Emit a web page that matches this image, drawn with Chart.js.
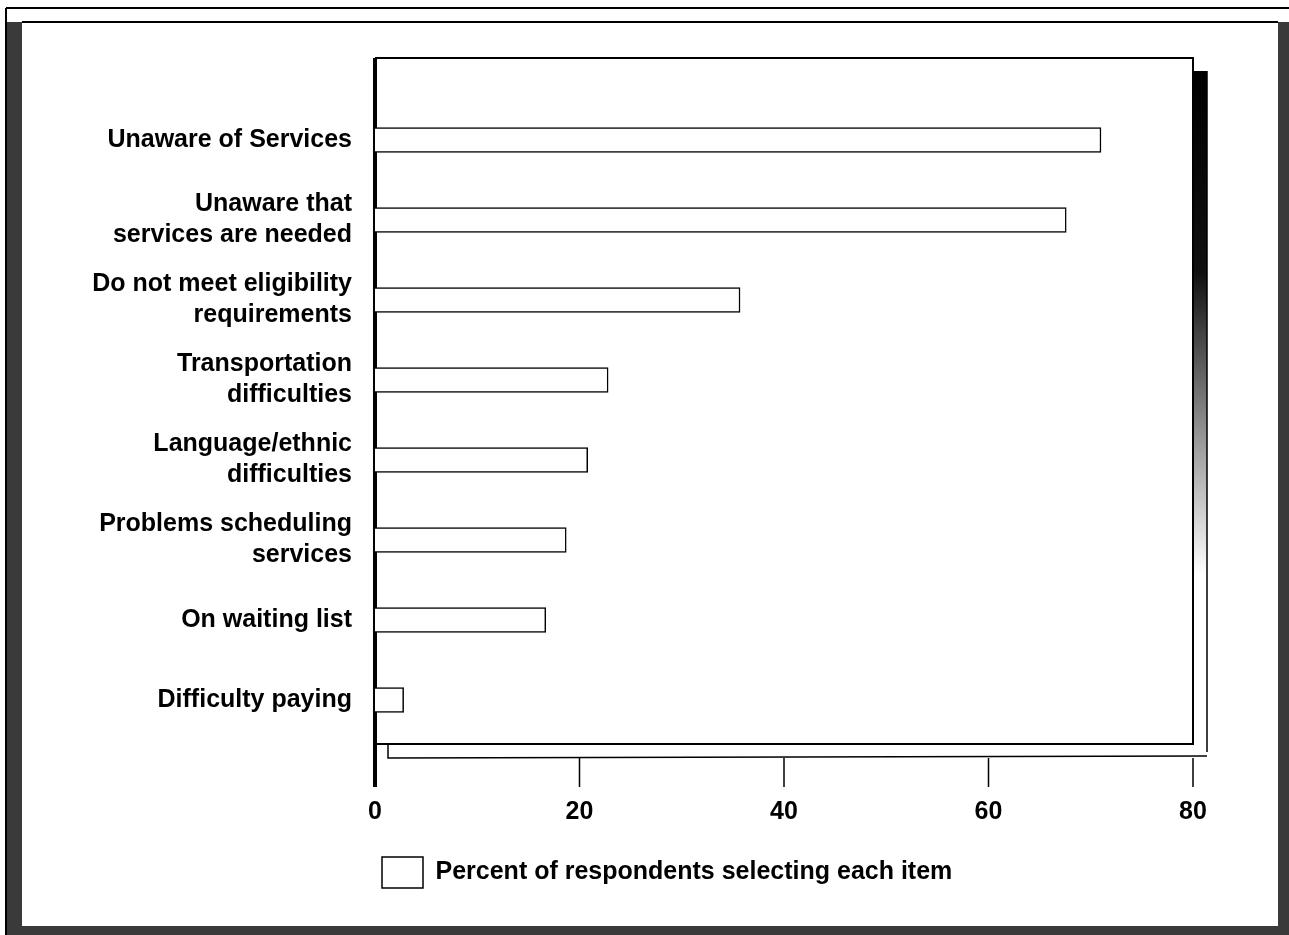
<!DOCTYPE html>
<html>
<head>
<meta charset="utf-8">
<title>Barriers to services</title>
<script src="https://cdn.jsdelivr.net/npm/chart.js@4/dist/chart.umd.min.js"></script>
<style>
  html, body { margin: 0; padding: 0; background: #fff; }
  canvas { display: block; }
</style>
</head>
<body>
<canvas id="grafica" width="1289" height="935"></canvas>
<script>
// datos
const categorias = [
    'Unaware of Services',
    ['Unaware that', 'services are needed'],
    ['Do not meet eligibility', 'requirements'],
    ['Transportation', 'difficulties'],
    ['Language/ethnic', 'difficulties'],
    ['Problems scheduling', 'services'],
    'On waiting list',
    'Difficulty paying'
];
const porcentajes = [71, 67.6, 35.7, 22.8, 20.8, 18.7, 16.7, 2.8];
const ticksX = [0, 20, 40, 60, 80];
const nombreSerie = 'Percent of respondents selecting each item';

const fuente = { family: '"Liberation Sans", Arial, sans-serif', weight: 'bold', size: 25 };

// marco de página + caja del gráfico con sombra y "piso"
const marco = {
    id: 'marco',
    beforeDraw(chart) {
        const ctx = chart.ctx;
        const W = chart.width, H = chart.height;
        ctx.save();
        ctx.fillStyle = '#fff';
        ctx.fillRect(0, 0, W, H);
        // tiras oscuras del escaneo
        ctx.fillStyle = '#3a3a3a';
        ctx.fillRect(6, 22, 16, H - 22);
        ctx.fillRect(1278, 22, 11, H - 22);
        ctx.fillRect(6, 926, W - 6, 9);
        ctx.strokeStyle = '#000';
        ctx.lineWidth = 2;
        ctx.beginPath();
        ctx.moveTo(6, 8); ctx.lineTo(W, 8);
        ctx.moveTo(6, 8); ctx.lineTo(6, H);
        ctx.moveTo(22, 22); ctx.lineTo(1278, 22);
        ctx.stroke();
        ctx.restore();
    },
    beforeDatasetsDraw(chart) {
        const ctx = chart.ctx;
        const x = chart.scales.x;
        const a = chart.chartArea;
        const izq = x.getPixelForValue(0);
        const der = x.getPixelForValue(80);
        const arriba = a.top - 42;
        const abajo = a.bottom + 4;
        ctx.save();
        // sombra derecha
        const g = ctx.createLinearGradient(0, arriba + 13, 0, abajo);
        g.addColorStop(0, '#000');
        g.addColorStop(0.3, '#111');
        g.addColorStop(0.55, '#999');
        g.addColorStop(0.75, '#fff');
        ctx.fillStyle = g;
        ctx.fillRect(der + 1, arriba + 13, 13, abajo - arriba - 5);
        ctx.strokeStyle = '#000';
        ctx.lineWidth = 1.5;
        ctx.beginPath();
        ctx.moveTo(der + 14, arriba + 13); ctx.lineTo(der + 14, abajo + 8);
        ctx.stroke();
        // caja
        ctx.lineWidth = 2;
        ctx.beginPath();
        ctx.moveTo(izq, arriba); ctx.lineTo(der, arriba); ctx.lineTo(der, abajo); ctx.lineTo(izq, abajo);
        ctx.stroke();
        // piso
        ctx.lineWidth = 1.5;
        ctx.beginPath();
        ctx.moveTo(izq + 13, abajo); ctx.lineTo(izq + 13, abajo + 14);
        ctx.lineTo(der + 14, abajo + 12);
        ctx.stroke();
        // marcas del eje x
        const finPiso = abajo + 14;
        ctx.lineWidth = 1.5;
        ctx.beginPath();
        ticksX.forEach(v => {
            if (v === 0) return;
            const px = x.getPixelForValue(v);
            ctx.moveTo(px, finPiso); ctx.lineTo(px, finPiso + 29);
        });
        ctx.stroke();
        // eje izquierdo grueso
        ctx.lineWidth = 4;
        ctx.beginPath();
        ctx.moveTo(izq, arriba); ctx.lineTo(izq, finPiso + 29);
        ctx.stroke();
        ctx.restore();
    }
};

new Chart(document.getElementById('grafica').getContext('2d'), {
    type: 'bar',
    data: {
        labels: categorias,
        datasets: [{
            label: nombreSerie,
            data: porcentajes,
            backgroundColor: '#fff',
            borderColor: '#000',
            borderWidth: 1.5,
            barThickness: 25
        }]
    },
    options: {
        indexAxis: 'y',
        responsive: false,
        animation: false,
        layout: { padding: { left: 0, right: 96, top: 100, bottom: 37 } },
        scales: {
            x: {
                min: 0,
                max: 80,
                afterBuildTicks(scale) { scale.ticks = ticksX.map(v => ({ value: v })); },
                afterFit(scale) { scale.height = 110; },
                grid: { display: false, drawTicks: false },
                border: { display: false },
                ticks: { color: '#000', font: fuente, padding: 57, maxRotation: 0 }
            },
            y: {
                afterFit(scale) { scale.width = 375; },
                grid: { display: false, drawTicks: false },
                border: { display: false },
                ticks: {
                    color: '#000',
                    font: Object.assign({}, fuente, { lineHeight: 1.24 }),
                    padding: 23,
                    autoSkip: false
                }
            }
        },
        plugins: {
            legend: {
                position: 'bottom',
                fullSize: false,
                align: 'start',
                labels: {
                    boxWidth: 41,
                    boxHeight: 31,
                    padding: 7,
                    color: '#000',
                    font: fuente
                }
            },
            tooltip: { enabled: false }
        }
    },
    plugins: [marco]
});
</script>
</body>
</html>
